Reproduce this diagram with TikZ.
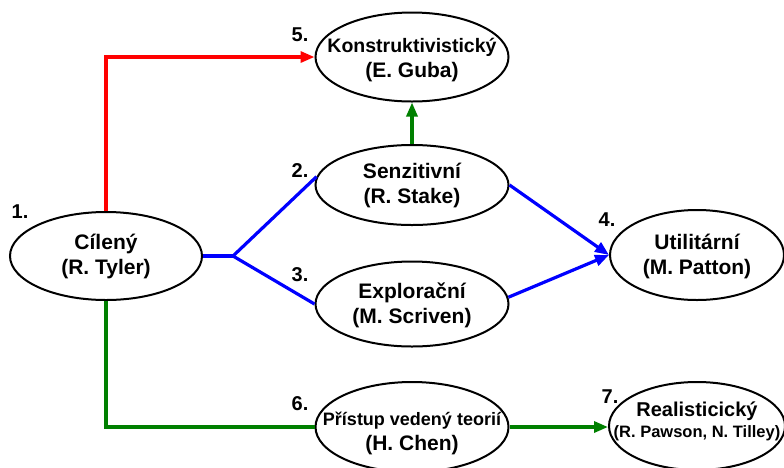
\documentclass[tikz,border=0pt]{standalone}
\usepackage{fontspec}
\setmainfont{Liberation Sans}
\usetikzlibrary{shapes.geometric,arrows.meta}
\definecolor{dgreen}{RGB}{0,128,0}
\begin{document}
\begin{tikzpicture}[x=1pt,y=-1pt,
  ell/.style={ellipse,draw=black,line width=2pt,fill=white,inner sep=0pt},
  txt/.style={inner sep=0pt,align=center,font=\fontsize{21}{25}\selectfont\bfseries},
  num/.style={inner sep=0pt,font=\fontsize{20}{24}\selectfont\bfseries},
  link/.style={line width=3.2pt},
  tip/.style={-{Triangle[length=14pt,width=11pt]}}
]
\useasboundingbox (0,0) rectangle (784,467);

% connectors first (under ellipses)
\node[ell,minimum width=192pt,minimum height=88pt] (cil) at (106,256) {};
\node[ell,minimum width=193pt,minimum height=89pt] (kon) at (412,57) {};
\node[ell,minimum width=193pt,minimum height=80pt] (sen) at (412,185) {};
\node[ell,minimum width=193pt,minimum height=85pt] (exp) at (412,304) {};
\node[ell,minimum width=174pt,minimum height=90pt] (uti) at (697,255) {};
\node[ell,minimum width=193pt,minimum height=90pt] (pri) at (412,427) {};
\node[ell,minimum width=176pt,minimum height=88pt] (rea) at (697,426) {};

\node[txt] (cilt) at (106,256) {Cílený\\(R. Tyler)};
\node[txt] (kont) at (412,60) {{\fontsize{19.5}{24}\selectfont Konstruktivistický}\\(E. Guba)};
\node[txt] (sent) at (412,185) {Senzitivní\\(R. Stake)};
\node[txt] (expt) at (412,305) {Explorační\\(M. Scriven)};
\node[txt] (utit) at (697,256) {Utilitární\\(M. Patton)};
\node[txt,font=\fontsize{21}{25}\selectfont\bfseries] (prit) at (412,433) {{\fontsize{18}{22}\selectfont Přístup vedený teorií}\\(H. Chen)};
\node[txt,font=\fontsize{16.5}{21}\selectfont\bfseries] (reat) at (697,421) {{\fontsize{20}{21}\selectfont Realisticický}\\(R. Pawson, N. Tilley)};

\node[num] (n1) at (20,212) {1.};
\node[num] (n5) at (300,35) {5.};
\node[num] (n2) at (300,171) {2.};
\node[num] (n3) at (300,275) {3.};
\node[num] (n4) at (607,220) {4.};
\node[num] (n6) at (300,404) {6.};
\node[num] (n7) at (610,397) {7.};

\coordinate (br) at (233,256);
\draw[link,red,tip] (cil.north) |- (kon.west);
\draw[link,dgreen,tip] (sen.north) -- (kon.south);
\draw[link,blue] (cil.east) -- (br);
\draw[link,blue] (br) -- (sen.175);
\draw[link,blue] (br) -- (exp.west);
\draw[link,blue,tip] (sen.east) -- (uti.west);
\draw[link,blue,tip] (exp.4) -- (uti.west);
\draw[link,dgreen] (cil.south) |- (pri.west);
\draw[link,dgreen,tip] (pri.east) -- (pri.east -| rea.west);
\end{tikzpicture}
\end{document}
